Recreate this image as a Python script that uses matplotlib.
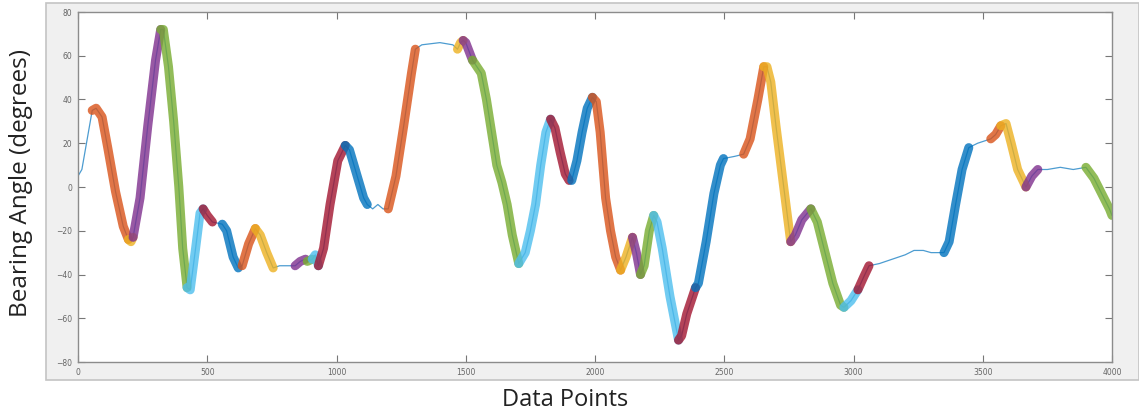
import matplotlib.pyplot as plt
from matplotlib.patches import Rectangle
import numpy as np


# key points of the bearing trace
x_pts = [0, 15, 55, 70, 93, 115, 145, 175, 195, 205,
         213, 240, 270, 300, 320, 330, 350, 370, 390, 405,
         422, 434, 455, 472, 484, 500, 520, 558, 575, 600,
         620, 635, 660, 686, 705, 730, 755, 780, 840, 860,
         880, 887, 906, 918, 930, 950, 975, 1005, 1034, 1050,
         1080, 1105, 1119, 1140, 1160, 1180, 1200, 1230, 1260, 1290,
         1305, 1330, 1400, 1450, 1468, 1480, 1490, 1500, 1526, 1560,
         1580, 1600, 1620, 1640, 1660, 1680, 1705, 1730, 1750, 1770,
         1790, 1810, 1828, 1845, 1865, 1885, 1900, 1910, 1930, 1950,
         1970, 1990, 2005, 2020, 2041, 2060, 2080, 2099, 2120, 2145,
         2160, 2176, 2190, 2210, 2227, 2240, 2260, 2290, 2323, 2335,
         2355, 2389, 2400, 2430, 2460, 2485, 2497, 2540, 2575, 2600,
         2630, 2653, 2665, 2680, 2700, 2730, 2757, 2775, 2800, 2835,
         2860, 2890, 2920, 2950, 2963, 2990, 3017, 3040, 3060, 3100,
         3150, 3200, 3234, 3270, 3300, 3350, 3370, 3395, 3420, 3446,
         3480, 3531, 3550, 3570, 3590, 3610, 3635, 3667, 3690, 3713,
         3750, 3800, 3850, 3899, 3930, 3960, 3990, 4000]
y_pts = [5, 8, 35, 36, 32, 18, -2, -18, -24, -25,
         -23, -5, 28, 58, 72, 72, 55, 30, 0, -28,
         -46, -47, -28, -12, -10, -13, -16, -17, -20, -32,
         -37, -36, -26, -19, -22, -30, -37, -36, -36, -34,
         -33, -34, -33, -31, -36, -28, -8, 12, 19, 17,
         5, -5, -8, -10, -8, -10, -10, 5, 28, 52,
         63, 65, 66, 65, 63, 66, 67, 66, 58, 52,
         40, 25, 10, 2, -8, -22, -35, -30, -20, -8,
         10, 25, 31, 27, 16, 6, 3, 3, 12, 25,
         36, 41, 39, 25, -5, -20, -32, -38, -32, -23,
         -30, -40, -36, -20, -13, -16, -28, -50, -70, -68,
         -58, -46, -44, -25, -3, 10, 13, 14, 15, 22,
         40, 55, 55, 48, 28, 0, -25, -22, -15, -10,
         -16, -30, -44, -54, -55, -52, -47, -41, -36, -35,
         -33, -31, -29, -29, -30, -30, -25, -8, 8, 18,
         20, 22, 24, 28, 29, 20, 8, 0, 5, 8,
         8, 9, 8, 9, 4, -3, -10, -13]

# detected segments (start / end data point)
seg_start = [55, 195, 213, 320, 422, 484, 558, 635, 686, 840,
             887, 906, 930, 1034, 1200, 1468, 1490, 1526, 1705, 1828,
             1910, 1990, 2099, 2145, 2176, 2227, 2323, 2389, 2575, 2653,
             2757, 2835, 2963, 3017, 3350, 3531, 3570, 3667, 3899]
seg_end = [195, 213, 320, 422, 484, 520, 620, 686, 755, 880,
           906, 930, 1034, 1119, 1305, 1490, 1526, 1705, 1828, 1900,
           1990, 2099, 2145, 2176, 2227, 2323, 2389, 2497, 2653, 2757,
           2835, 2963, 3017, 3060, 3446, 3570, 3667, 3713, 4000]

x = np.array(x_pts)
y = np.array(y_pts)

# MATLAB default colour order
matlab_colors = ['#0072BD', '#D95319', '#EDB120', '#7E2F8E',
                 '#77AC30', '#4DBEEE', '#A2142F']

fig = plt.figure(figsize=(11.39, 4.15), dpi=100, facecolor='white')

# grey MATLAB figure panel (behind the axes)
fig.patches.append(Rectangle((46/1139, 35/415), 1093/1139, 377/415,
                             transform=fig.transFigure, facecolor='#f0f0f0',
                             edgecolor='#c4c4c4', lw=1.2, zorder=-10))

ax = fig.add_axes([78/1139, 53/415, 1034/1139, 350/415])
ax.set_zorder(5)
ax.set_facecolor('white')
ax.set_prop_cycle(color=matlab_colors)

ax.plot(x, y, lw=0.9, alpha=0.7)
for s, e in zip(seg_start, seg_end):
    m = (x >= s) & (x <= e)
    ax.plot(x[m], y[m], lw=6.5, alpha=0.8, solid_capstyle='round',
            solid_joinstyle='round')

ax.set_xlim(0, 4000)
ax.set_ylim(-80, 80)
ax.set_xticks(np.arange(0, 4001, 500))
ax.set_yticks(np.arange(-80, 81, 20))
ax.tick_params(direction='in', top=True, right=True, length=5, width=0.8,
               color='#777777', labelsize=5.5, labelcolor='#666666', pad=4)
for sp in ax.spines.values():
    sp.set_color('#8c8c8c')
    sp.set_linewidth(1)

fig.text(0.018, 0.56, 'Bearing Angle (degrees)', rotation=90, fontsize=17.5,
         family='Open Sans', color='#222222', ha='center', va='center')
fig.text(0.496, 0.036, 'Data Points', fontsize=17, family='Open Sans',
         color='#222222', ha='center', va='center')

fig.savefig('out.png', dpi=100, facecolor='white')
